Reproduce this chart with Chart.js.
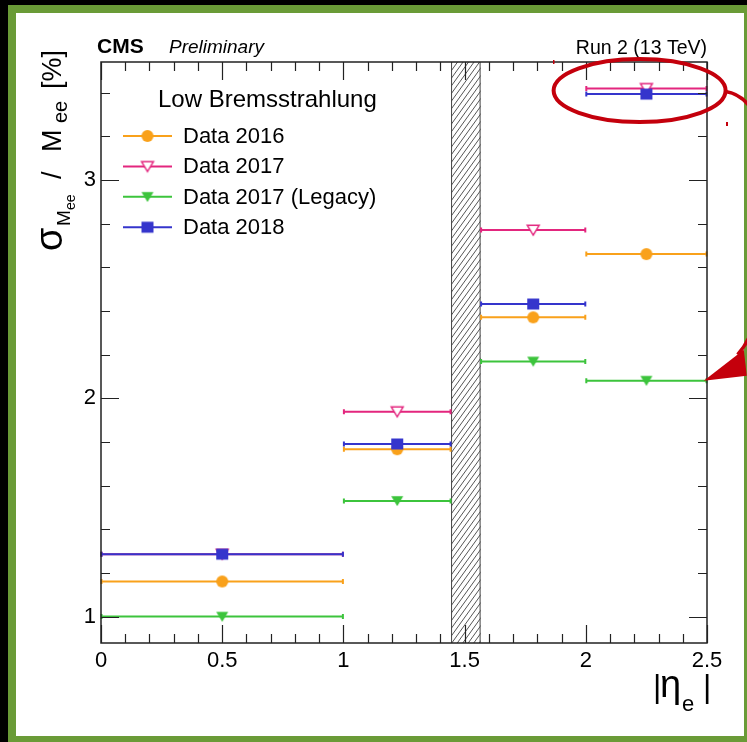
<!DOCTYPE html>
<html>
<head>
<meta charset="utf-8">
<title>Dielectron mass resolution vs |eta|</title>
<script src="https://cdn.jsdelivr.net/npm/chart.js@4.4.1/dist/chart.umd.min.js"></script>
<style>
  html, body { margin: 0; padding: 0; background: #000; width: 747px; height: 742px; overflow: hidden; }
  #frame { position: absolute; left: 8px; top: 5px; width: 739px; height: 737px; background: #6a9b37; }
  #paper { position: absolute; left: 16px; top: 13px; width: 728px; height: 723px; background: #fff; }
  #wrap  { position: absolute; left: 0; top: 0; width: 747px; height: 742px; }
</style>
</head>
<body>
<div id="frame"></div>
<div id="paper"></div>
<div id="wrap"><canvas id="c" width="747" height="742"></canvas></div>
<script>
// |eta| bins (ECAL barrel / endcap, with the transition region removed)
const binLow    = [0.0, 1.0, 1.566, 2.0];
const binHigh   = [1.0, 1.4442, 2.0, 2.5];
const etaCenter = [0.5, 1.2221, 1.783, 2.25];

// relative mass resolution sigma_M / M in %
const data2016       = [1.161, 1.767, 2.371, 2.661];
const data2017       = [1.286, 1.939, 2.771, 3.420];
const data2017Legacy = [1.000, 1.530, 2.169, 2.081];
const data2018       = [1.286, 1.791, 2.432, 3.394];

const seriesLabels = ['Data 2016', 'Data 2017', 'Data 2017 (Legacy)', 'Data 2018'];
const legendTitle  = 'Low Bremsstrahlung';

// barrel-endcap transition region
const crackLow  = 1.4442;
const crackHigh = 1.566;

// axis ranges and labelled ticks
const xRange = [0, 2.5];
const yRange = [0.879, 3.541];
const xMajorTicks = [0, 0.5, 1, 1.5, 2, 2.5];
const yMajorTicks = [1, 2, 3];

const FONT = '"Liberation Sans", Arial, Helvetica, sans-serif';

const COLORS = {
  c2016:   '#f9a11b',
  c2017:   '#e3267e',
  cLegacy: '#3cc43c',
  c2018:   '#3535cc'
};

// marker sprites, centred on their bounding box
function makeMarker(kind, fill, stroke, lw) {
  const cv = document.createElement('canvas');
  cv.width = 16; cv.height = 16;
  const g = cv.getContext('2d');
  g.fillStyle = fill; g.strokeStyle = stroke; g.lineWidth = lw;
  g.beginPath();
  if (kind === 'circle') {
    g.arc(8, 8, 6, 0, Math.PI * 2);
  } else if (kind === 'tri') {
    g.moveTo(2, 3.2); g.lineTo(14, 3.2); g.lineTo(8, 13.2); g.closePath();
  } else if (kind === 'square') {
    g.rect(2, 2.5, 12, 11);
  }
  g.fill();
  if (lw > 0) g.stroke();
  return cv;
}

const markers = [
  makeMarker('circle', COLORS.c2016, COLORS.c2016, 0),
  makeMarker('tri', '#ffffff', COLORS.c2017, 1.4),
  makeMarker('tri', COLORS.cLegacy, COLORS.cLegacy, 0),
  makeMarker('square', COLORS.c2018, COLORS.c2018, 0)
];
const seriesValues = [data2016, data2017, data2017Legacy, data2018];
const seriesColors = [COLORS.c2016, COLORS.c2017, COLORS.cLegacy, COLORS.c2018];

// drawing order: later entries on top (Chart.js draws lower "order" last)
const datasets = seriesValues.map((vals, k) => ({
  label: seriesLabels[k],
  data: etaCenter.map((x, i) => ({ x: x, y: vals[i] })),
  xLow: binLow,
  xHigh: binHigh,
  lineColor: seriesColors[k],
  showLine: false,
  pointStyle: markers[k],
  pointRadius: 6,
  pointHoverRadius: 6,
  order: 3 - k
}));

const rootStyle = {
  id: 'rootStyle',
  beforeDatasetsDraw(chart) {
    const ctx = chart.ctx;
    const a = chart.chartArea;
    const xs = chart.scales.x, ys = chart.scales.y;

    // hatched transition band
    const xl = xs.getPixelForValue(crackLow), xr = xs.getPixelForValue(crackHigh);
    ctx.save();
    ctx.beginPath();
    ctx.rect(xl, a.top, xr - xl, a.bottom - a.top);
    ctx.clip();
    ctx.strokeStyle = '#555';
    ctx.lineWidth = 1;
    const h = a.bottom - a.top;
    const run = h * 0.72;
    for (let s = xl - run - 10; s < xr + 10; s += 5.5) {
      ctx.beginPath();
      ctx.moveTo(s, a.bottom);
      ctx.lineTo(s + run, a.top);
      ctx.stroke();
    }
    ctx.restore();
    ctx.save();
    ctx.strokeStyle = '#444';
    ctx.lineWidth = 1;
    ctx.beginPath();
    ctx.moveTo(xl + 0.5, a.top); ctx.lineTo(xl + 0.5, a.bottom);
    ctx.moveTo(xr - 0.5, a.top); ctx.lineTo(xr - 0.5, a.bottom);
    ctx.stroke();
    ctx.restore();

    // horizontal error bars (bin widths)
    ctx.save();
    ctx.lineWidth = 2;
    chart.data.datasets.forEach(ds => {
      ctx.strokeStyle = ds.lineColor;
      ds.data.forEach((p, i) => {
        const y = ys.getPixelForValue(p.y);
        const x0 = xs.getPixelForValue(ds.xLow[i]);
        const x1 = xs.getPixelForValue(ds.xHigh[i]);
        ctx.beginPath();
        ctx.moveTo(x0, y); ctx.lineTo(x1, y);
        ctx.moveTo(x0 + 0.5, y - 2.5); ctx.lineTo(x0 + 0.5, y + 2.5);
        ctx.moveTo(x1 - 0.5, y - 2.5); ctx.lineTo(x1 - 0.5, y + 2.5);
        ctx.stroke();
      });
    });
    ctx.restore();
  },
  afterDatasetsDraw(chart) {
    const ctx = chart.ctx;
    const a = chart.chartArea;
    const xs = chart.scales.x, ys = chart.scales.y;

    // frame
    ctx.save();
    ctx.strokeStyle = '#222';
    ctx.lineWidth = 1.5;
    ctx.strokeRect(a.left, a.top, a.right - a.left, a.bottom - a.top);

    // inward ticks on all four sides
    ctx.lineWidth = 1.2;
    ctx.beginPath();
    for (let i = 0; i <= 25; i++) {
      const v = i / 10;
      const px = Math.round(xs.getPixelForValue(v)) + 0.5;
      const len = (i % 5 === 0) ? 18 : 9;
      ctx.moveTo(px, a.bottom); ctx.lineTo(px, a.bottom - len);
      ctx.moveTo(px, a.top);    ctx.lineTo(px, a.top + len);
    }
    for (let i = 5; i <= 17; i++) {
      const v = i / 5;
      const py = Math.round(ys.getPixelForValue(v)) + 0.5;
      const len = (i % 5 === 0) ? 18 : 9;
      ctx.moveTo(a.left, py);  ctx.lineTo(a.left + len, py);
      ctx.moveTo(a.right, py); ctx.lineTo(a.right - len, py);
    }
    ctx.stroke();
    ctx.restore();

    // legend
    ctx.save();
    ctx.fillStyle = '#000';
    ctx.textBaseline = 'alphabetic';
    ctx.font = '24px ' + FONT;
    ctx.fillText(legendTitle, 158, 107);
    ctx.font = '22px ' + FONT;
    chart.data.datasets.forEach((ds, k) => {
      const base = 143 + k * 30.4;
      const ly = base - 7;
      ctx.strokeStyle = ds.lineColor;
      ctx.lineWidth = 2;
      ctx.beginPath();
      ctx.moveTo(123, ly); ctx.lineTo(172, ly);
      ctx.stroke();
      const m = ds.pointStyle;
      ctx.drawImage(m, 147.5 - m.width / 2, ly - m.height / 2);
      ctx.fillStyle = '#000';
      ctx.fillText(ds.label, 183, base);
    });
    ctx.restore();

    // header texts
    ctx.save();
    ctx.fillStyle = '#000';
    ctx.font = 'bold 21px ' + FONT;
    ctx.fillText('CMS', 97, 53);
    ctx.font = 'italic 19px ' + FONT;
    ctx.fillText('Preliminary', 169, 53);
    ctx.font = '19.5px ' + FONT;
    ctx.textAlign = 'right';
    ctx.fillText('Run 2 (13 TeV)', 707, 54);
    ctx.restore();

    // x-axis title |eta_e|
    ctx.save();
    ctx.fillStyle = '#000';
    ctx.font = '32px ' + FONT;
    ctx.fillText('|', 653, 697);
    ctx.font = '38px ' + FONT;
    ctx.fillText('\u03B7', 660, 697);
    ctx.font = '22px ' + FONT;
    ctx.fillText('e', 682, 711);
    ctx.font = '32px ' + FONT;
    ctx.fillText('|', 703, 697);
    ctx.restore();

    // y-axis title sigma_{M_ee} / M_ee [%], written bottom-to-top
    ctx.save();
    ctx.fillStyle = '#000';
    ctx.translate(61, 0);
    ctx.rotate(-Math.PI / 2);
    const piece = (txt, size, yStart, shift) => {
      ctx.font = size + 'px ' + FONT;
      ctx.fillText(txt, -yStart, shift);
    };
    piece('\u03C3', 38, 251, 1);
    piece('M', 19, 226, 9);
    piece('ee', 14, 210, 14);
    piece('/', 27, 179, 0);
    piece('M', 27, 152, 0);
    piece('ee', 20, 123, 6);
    piece('[%]', 27, 89, 0);
    ctx.restore();
  },
  afterDraw(chart) {
    // red highlight ellipse and arrow
    const ctx = chart.ctx;
    const xs = chart.scales.x, ys = chart.scales.y;
    const cx = xs.getPixelForValue(2.222);
    const cy = ys.getPixelForValue(3.41);
    ctx.save();
    ctx.strokeStyle = '#c4000c';
    ctx.fillStyle = '#c4000c';
    ctx.lineWidth = 4;
    ctx.beginPath();
    ctx.ellipse(cx, cy, 86, 31.5, 0, 0, Math.PI * 2);
    ctx.stroke();

    ctx.lineWidth = 3.5;
    ctx.beginPath();
    ctx.moveTo(cx + 86, cy + 1);
    ctx.quadraticCurveTo(cx + 104, cy + 4, cx + 114, cy + 22);
    ctx.lineTo(cx + 114, cy + 230);
    ctx.quadraticCurveTo(cx + 112, cy + 248, cx + 98, cy + 264);
    ctx.stroke();

    const tipX = xs.getPixelForValue(2.495);
    const tipY = ys.getPixelForValue(data2017Legacy[3]);
    ctx.beginPath();
    ctx.moveTo(tipX - 2, tipY);
    ctx.lineTo(tipX + 38, tipY - 31);
    ctx.lineTo(tipX + 41, tipY - 5);
    ctx.closePath();
    ctx.fill();

    ctx.fillRect(553, 60, 1.5, 4);
    ctx.fillRect(726, 122, 2, 4);
    ctx.restore();
  }
};

new Chart(document.getElementById('c'), {
  type: 'scatter',
  data: { datasets: datasets },
  options: {
    responsive: false,
    animation: false,
    events: [],
    layout: { padding: { left: 61, right: 40, top: 62, bottom: 59 } },
    plugins: {
      legend: { display: false },
      tooltip: { enabled: false }
    },
    scales: {
      x: {
        type: 'linear',
        min: xRange[0], max: xRange[1],
        grid: { display: false, drawTicks: false },
        border: { display: false },
        afterBuildTicks: s => { s.ticks = xMajorTicks.map(v => ({ value: v })); },
        afterFit: s => { s.height = 40; },
        ticks: {
          color: '#000',
          padding: 5,
          maxRotation: 0,
          autoSkip: false,
          font: { family: FONT, size: 22 },
          callback: v => String(v)
        }
      },
      y: {
        type: 'linear',
        min: yRange[0], max: yRange[1],
        grid: { display: false, drawTicks: false },
        border: { display: false },
        afterBuildTicks: s => { s.ticks = yMajorTicks.map(v => ({ value: v })); },
        afterFit: s => { s.width = 40; },
        ticks: {
          color: '#000',
          padding: 5,
          autoSkip: false,
          font: { family: FONT, size: 22 },
          callback: v => String(v)
        }
      }
    }
  },
  plugins: [rootStyle]
});
</script>
</body>
</html>
